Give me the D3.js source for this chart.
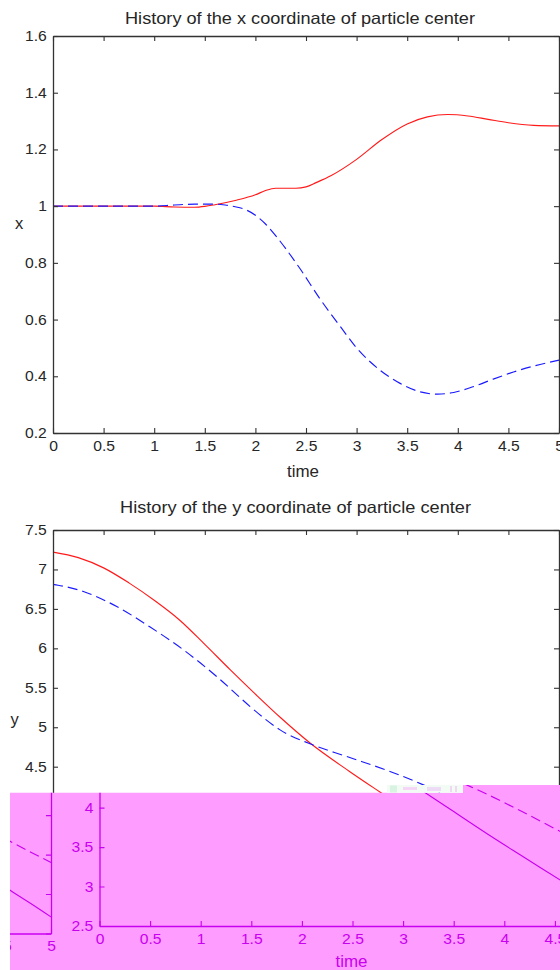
<!DOCTYPE html>
<html><head><meta charset="utf-8">
<script src="https://cdn.jsdelivr.net/npm/d3@7"></script>
<style>html,body{margin:0;padding:0;background:#fff;overflow:hidden;} svg{display:block;}</style>
</head><body>
<script>
// ---------- data ----------
const xTitle = "History of the x coordinate of particle center";
const yTitle = "History of the y coordinate of particle center";
const xLabel = "time";
const xTicks = [0, 0.5, 1, 1.5, 2, 2.5, 3, 3.5, 4, 4.5, 5];
const xTickLabels = ["0", "0.5", "1", "1.5", "2", "2.5", "3", "3.5", "4", "4.5", "5"];
const topYTicks = [0.2, 0.4, 0.6, 0.8, 1, 1.2, 1.4, 1.6];
const topYTickLabels = ["0.2", "0.4", "0.6", "0.8", "1", "1.2", "1.4", "1.6"];
const botYTicks = [2.5, 3, 3.5, 4, 4.5, 5, 5.5, 6, 6.5, 7, 7.5];
const botYTickLabels = ["2.5", "3", "3.5", "4", "4.5", "5", "5.5", "6", "6.5", "7", "7.5"];

// x coordinate, particle 1 (red solid)
const topTime1 = [0, 0.5, 1.0, 1.2, 1.4, 1.5, 1.6, 1.8, 2.0, 2.1, 2.2, 2.4, 2.5, 2.6, 2.75, 3.0, 3.25, 3.5, 3.7, 3.9, 4.1, 4.3, 4.5, 4.75, 5.0];
const topX1    = [1.0, 1.0, 1.0, 0.997, 0.996, 0.999, 1.005, 1.02, 1.04, 1.055, 1.063, 1.063, 1.068, 1.083, 1.108, 1.165, 1.235, 1.29, 1.315, 1.323, 1.318, 1.306, 1.294, 1.285, 1.283];
// x coordinate, particle 2 (blue dashed)
const topTime2 = [0, 0.5, 1.0, 1.2, 1.4, 1.6, 1.7, 1.8, 1.9, 2.0, 2.1, 2.2, 2.3, 2.44, 2.64, 2.84, 3.0, 3.23, 3.43, 3.63, 3.8, 3.96, 4.15, 4.35, 4.55, 4.75, 5.0];
const topX2    = [1.0, 1.0, 1.0, 1.004, 1.007, 1.007, 1.004, 0.998, 0.988, 0.968, 0.937, 0.896, 0.85, 0.78, 0.672, 0.575, 0.5, 0.422, 0.375, 0.345, 0.337, 0.343, 0.363, 0.39, 0.415, 0.436, 0.457];

// y coordinate, particle 1 (red solid)
const botTime1 = [0, 0.25, 0.5, 0.75, 1.0, 1.25, 1.5, 1.75, 2.0, 2.25, 2.54, 2.93, 3.23, 3.5, 3.83, 4.16, 4.555, 4.8, 5.0];
const botY1    = [7.22, 7.15, 7.02, 6.83, 6.61, 6.36, 6.05, 5.73, 5.42, 5.12, 4.8, 4.44, 4.18, 3.95, 3.67, 3.4, 3.08, 2.88, 2.71];
// y coordinate, particle 2 (blue dashed)
const botTime2 = [0, 0.05, 0.3, 0.63, 0.96, 1.29, 1.62, 1.95, 2.1, 2.24, 2.54, 2.9, 3.33, 3.66, 4.16, 4.55, 4.8, 5.0];
const botY2    = [6.81, 6.8, 6.72, 6.53, 6.27, 5.98, 5.64, 5.26, 5.1, 4.97, 4.79, 4.63, 4.44, 4.27, 3.96, 3.7, 3.53, 3.4];

// ---------- drawing ----------
const W = 560, H = 970;
const FONT = "'Liberation Sans', Arial, Helvetica, sans-serif";
const svg = d3.select("body").append("svg").attr("width", W).attr("height", H);
svg.append("rect").attr("width", W).attr("height", H).attr("fill", "#fff");

const topCfg = {
  l: 53, r: 559, t: 36, b: 433,
  yDomain: [0.2, 1.6], yTicks: topYTicks, yLabels: topYTickLabels,
  title: xTitle, titleX: 300, titleY: 24, titleLen: 350,
  ylab: "x", ylabX: 19, ylabY: 229,
  xlabX: 303, xlabY: 476.5,
  series: [
    {t: topTime1, v: topX1, color: "#ff1a1a", dash: null},
    {t: topTime2, v: topX2, color: "#1a1aff", dash: "10,5"}
  ]
};
const botCfg = {
  l: 53, r: 559, t: 530, b: 924.5,
  yDomain: [2.5, 7.5], yTicks: botYTicks, yLabels: botYTickLabels,
  title: yTitle, titleX: 295.5, titleY: 512.7, titleLen: 351,
  ylab: "y", ylabX: 14.5, ylabY: 724.5,
  xlabX: 305, xlabY: 965.5,
  series: [
    {t: botTime1, v: botY1, color: "#ff1a1a", dash: null},
    {t: botTime2, v: botY2, color: "#1a1aff", dash: "10,5"}
  ]
};

function drawPlot(g, cfg, mono) {
  const x = d3.scaleLinear().domain([0, 5]).range([cfg.l, cfg.r]);
  const y = d3.scaleLinear().domain(cfg.yDomain).range([cfg.b, cfg.t]);
  const axisColor = mono || "#333";
  const textColor = mono || "#262626";
  const line = d3.line().x(d => x(d[0])).y(d => y(d[1])).curve(d3.curveMonotoneX);

  cfg.series.forEach(s => {
    g.append("path")
      .datum(d3.zip(s.t, s.v))
      .attr("d", line)
      .attr("fill", "none")
      .attr("stroke", mono || s.color)
      .attr("stroke-width", 1.15)
      .attr("stroke-dasharray", s.dash);
  });

  const styleAxis = sel => {
    sel.attr("font-size", 14).attr("font-family", FONT).style("color", axisColor);
    sel.selectAll("line").attr("stroke-width", 1.1);
    sel.select(".domain").attr("stroke-width", 1.3);
    sel.selectAll("text").attr("fill", textColor);
  };

  g.append("g").attr("transform", `translate(0,${cfg.b})`)
    .call(d3.axisBottom(x).tickValues(xTicks).tickFormat((d, i) => xTickLabels[i])
      .tickSizeInner(-5).tickSizeOuter(0).tickPadding(8))
    .call(styleAxis)
    .selectAll("text").attr("transform", "scale(1.12,1)");

  g.append("g").attr("transform", `translate(0,${cfg.t})`)
    .call(d3.axisTop(x).tickValues(xTicks).tickFormat(() => "")
      .tickSizeInner(-5).tickSizeOuter(0))
    .call(styleAxis);

  g.append("g").attr("transform", `translate(${cfg.l},0)`)
    .call(d3.axisLeft(y).tickValues(cfg.yTicks).tickFormat((d, i) => cfg.yLabels[i])
      .tickSizeInner(-5).tickSizeOuter(0).tickPadding(5.5))
    .call(styleAxis)
    .selectAll("text").attr("transform", "scale(1.12,1)");

  g.append("g").attr("transform", `translate(${cfg.r},0)`)
    .call(d3.axisRight(y).tickValues(cfg.yTicks).tickFormat(() => "")
      .tickSizeInner(-5).tickSizeOuter(0))
    .call(styleAxis);

  g.append("text")
    .attr("x", cfg.titleX).attr("y", cfg.titleY)
    .attr("text-anchor", "middle")
    .attr("font-family", FONT).attr("font-size", 16.5)
    .attr("fill", textColor)
    .attr("textLength", cfg.titleLen).attr("lengthAdjust", "spacingAndGlyphs")
    .text(cfg.title);

  g.append("text")
    .attr("x", cfg.xlabX).attr("y", cfg.xlabY)
    .attr("text-anchor", "middle")
    .attr("font-family", FONT).attr("font-size", 16.5)
    .attr("fill", textColor)
    .attr("textLength", 32).attr("lengthAdjust", "spacingAndGlyphs")
    .text(xLabel);

  g.append("text")
    .attr("x", cfg.ylabX).attr("y", cfg.ylabY)
    .attr("text-anchor", "middle")
    .attr("font-family", FONT).attr("font-size", 16.5)
    .attr("fill", textColor)
    .text(cfg.ylab);
}

drawPlot(svg.append("g"), topCfg, null);
drawPlot(svg.append("g"), botCfg, null);

// ---------- corrupted magenta band at the bottom ----------
const bandPath = "M10,792.7 H463 V785 H560 V970 H10 Z";
const defs = svg.append("defs");
defs.append("clipPath").attr("id", "bandClip").append("path").attr("d", bandPath);

svg.append("path").attr("d", bandPath).attr("fill", "#ff9cff");
const band = svg.append("g").attr("clip-path", "url(#bandClip)");
const MAG = "#c800f0";
drawPlot(band.append("g").attr("transform", "translate(46.5,1.5)"), botCfg, MAG);
drawPlot(band.append("g").attr("transform", "translate(-508,9)"), botCfg, MAG);

// garbled light strip just above the band
svg.append("rect").attr("x", 387).attr("y", 785).attr("width", 76).attr("height", 7.7).attr("fill", "#f3fbf5");
svg.append("rect").attr("x", 390).attr("y", 785.5).attr("width", 7).attr("height", 7).attr("fill", "#d8f3e2");
svg.append("rect").attr("x", 403).attr("y", 787).attr("width", 14).attr("height", 3).attr("fill", "#f6d6f6");
svg.append("rect").attr("x", 427).attr("y", 787).attr("width", 14).attr("height", 4).attr("fill", "#eedcf6");
svg.append("rect").attr("x", 450).attr("y", 786).attr("width", 2).attr("height", 6).attr("fill", "#f0d8f0");
svg.append("rect").attr("x", 455).attr("y", 786).attr("width", 2).attr("height", 6).attr("fill", "#f0d8f0");
</script>
</body></html>
